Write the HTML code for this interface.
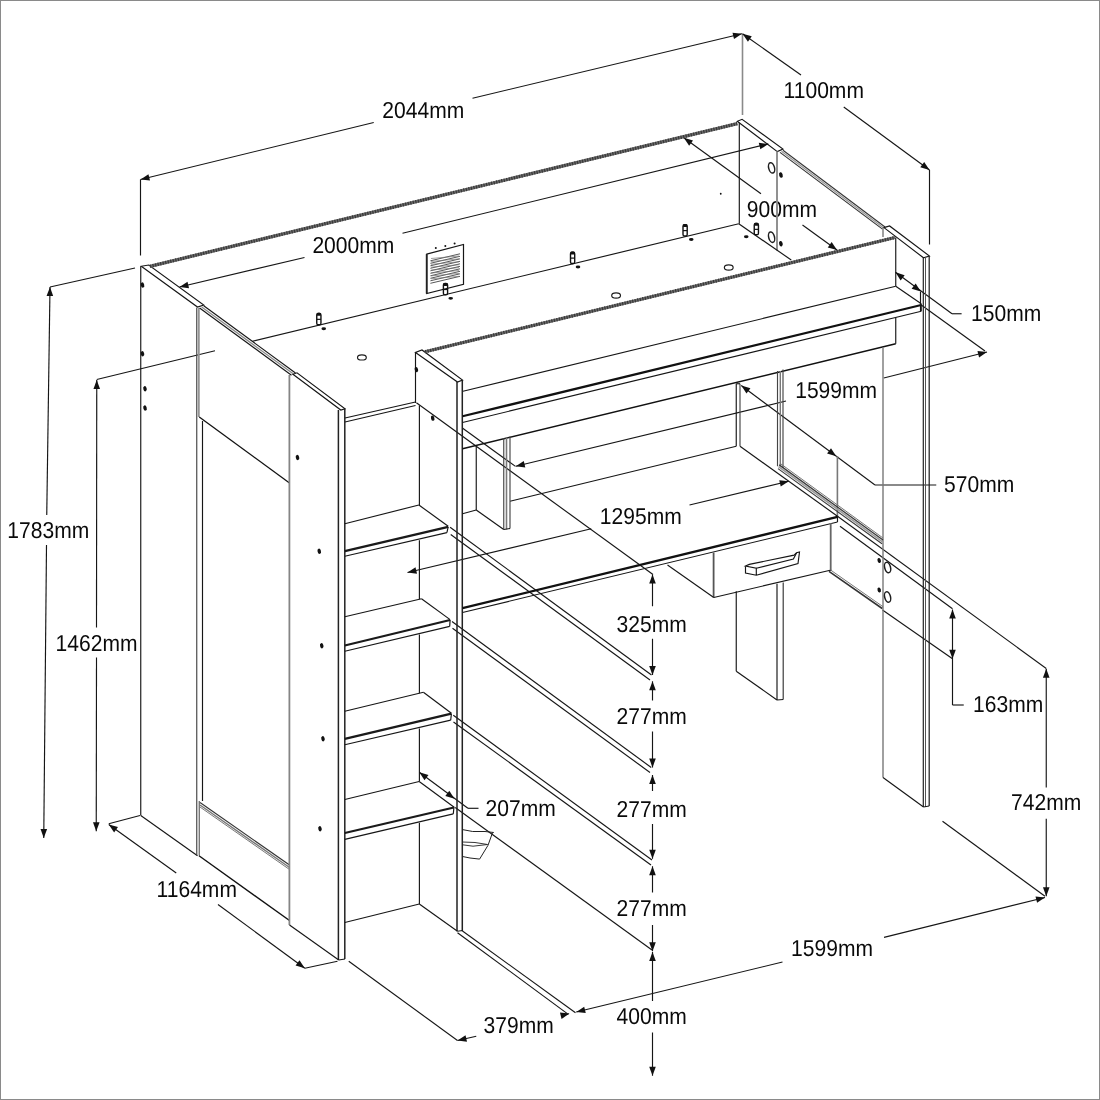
<!DOCTYPE html>
<html><head><meta charset="utf-8"><title>Dimensions</title>
<style>
html,body{margin:0;padding:0;background:#fff;}
body{width:1100px;height:1100px;overflow:hidden;position:relative;}
svg{position:absolute;left:0;top:0;display:block;will-change:transform;}
svg text{text-rendering:geometricPrecision;font-family:"Liberation Sans",Arial,Helvetica,sans-serif;font-size:23.0px;fill:#0a0a0a;}
.frame{position:absolute;left:0;top:0;width:1098px;height:1098px;border:1px solid #8a8a8a;}
</style></head><body>
<svg width="1100" height="1100" viewBox="0 0 1100 1100">
<line x1="140.5" y1="179.5" x2="373.75" y2="122.5" stroke="#161616" stroke-width="1.15"/>
<line x1="472.5" y1="98.25" x2="742" y2="33.75" stroke="#161616" stroke-width="1.15"/>
<polygon points="140.50,179.50 148.46,174.16 150.03,180.57" fill="#111"/>
<polygon points="742.00,33.75 734.02,39.05 732.48,32.64" fill="#111"/>
<line x1="140.5" y1="179.5" x2="140.5" y2="255.5" stroke="#161616" stroke-width="1.15"/>
<line x1="742.5" y1="33.75" x2="742.5" y2="115" stroke="#8a8a8a" stroke-width="1.6"/>
<text transform="translate(382.35,118.2) scale(0.915,1)">2044mm</text>
<line x1="742.5" y1="33.75" x2="801" y2="75" stroke="#161616" stroke-width="1.15"/>
<line x1="843.75" y1="107" x2="929.5" y2="170" stroke="#161616" stroke-width="1.15"/>
<polygon points="742.50,33.75 751.76,36.24 747.95,41.63" fill="#111"/>
<polygon points="929.50,170.00 920.29,167.33 924.20,162.01" fill="#111"/>
<line x1="929.5" y1="170" x2="929.5" y2="244.5" stroke="#161616" stroke-width="1.15"/>
<text transform="translate(783.6,98.2) scale(0.915,1)">1100mm</text>
<line x1="179.5" y1="287" x2="304.5" y2="257.5" stroke="#161616" stroke-width="1.15"/>
<line x1="402.5" y1="233.3" x2="768.3" y2="143.9" stroke="#161616" stroke-width="1.15"/>
<polygon points="179.50,287.00 187.50,281.72 189.02,288.14" fill="#111"/>
<polygon points="768.30,143.90 760.34,149.24 758.77,142.83" fill="#111"/>
<text transform="translate(312.40000000000003,253.2) scale(0.915,1)">2000mm</text>
<line x1="683.8" y1="137.8" x2="761" y2="193.75" stroke="#161616" stroke-width="1.15"/>
<line x1="802.5" y1="225" x2="837" y2="250" stroke="#161616" stroke-width="1.15"/>
<polygon points="683.80,137.80 693.02,140.41 689.15,145.75" fill="#111"/>
<polygon points="837.00,250.00 827.78,247.39 831.65,242.05" fill="#111"/>
<text transform="translate(746.8000000000001,217.2) scale(0.915,1)">900mm</text>
<line x1="895.5" y1="272.3" x2="952" y2="313.75" stroke="#161616" stroke-width="1.15"/>
<line x1="952" y1="313.75" x2="961.6" y2="313.75" stroke="#161616" stroke-width="1.15"/>
<polygon points="895.50,272.30 904.66,275.13 900.65,280.38" fill="#111"/>
<polygon points="920.80,291.60 911.64,288.77 915.65,283.52" fill="#111"/>
<text transform="translate(971.1,321.45) scale(0.915,1)">150mm</text>
<line x1="515.8" y1="466.3" x2="786" y2="401" stroke="#161616" stroke-width="1.15"/>
<line x1="883.75" y1="378" x2="987" y2="352" stroke="#161616" stroke-width="1.15"/>
<polygon points="515.80,466.30 523.77,460.98 525.32,467.39" fill="#111"/>
<polygon points="987.00,352.00 979.08,357.40 977.47,351.00" fill="#111"/>
<text transform="translate(795.2,397.5) scale(0.915,1)">1599mm</text>
<line x1="416.4" y1="402.7" x2="653" y2="574.5" stroke="#161616" stroke-width="1.15"/>
<line x1="462.7" y1="428.2" x2="515.5" y2="466.4" stroke="#161616" stroke-width="1.15"/>
<line x1="921.25" y1="305" x2="985" y2="351" stroke="#161616" stroke-width="1.15"/>
<line x1="741.25" y1="385.5" x2="875" y2="485" stroke="#161616" stroke-width="1.15"/>
<line x1="875" y1="485" x2="936.25" y2="485" stroke="#161616" stroke-width="1.15"/>
<polygon points="741.25,385.50 750.44,388.23 746.50,393.52" fill="#111"/>
<polygon points="836.25,456.25 827.06,453.52 831.00,448.23" fill="#111"/>
<text transform="translate(944.1,492.2) scale(0.915,1)">570mm</text>
<line x1="837.4" y1="456" x2="837.4" y2="517" stroke="#787878" stroke-width="1.6"/>
<line x1="407.5" y1="572.5" x2="591.25" y2="528.75" stroke="#161616" stroke-width="1.15"/>
<line x1="689.5" y1="505" x2="788.75" y2="481.25" stroke="#161616" stroke-width="1.15"/>
<polygon points="407.50,572.50 415.49,567.21 417.02,573.63" fill="#111"/>
<polygon points="788.75,481.25 780.77,486.55 779.23,480.14" fill="#111"/>
<text transform="translate(599.85,524.2) scale(0.915,1)">1295mm</text>
<line x1="50" y1="287" x2="46.75" y2="515" stroke="#161616" stroke-width="1.15"/>
<line x1="46.5" y1="545" x2="43.75" y2="838" stroke="#161616" stroke-width="1.15"/>
<polygon points="50.00,287.00 53.17,296.05 46.57,295.95" fill="#111"/>
<polygon points="43.75,838.00 40.53,828.97 47.13,829.03" fill="#111"/>
<line x1="135" y1="268" x2="50" y2="287" stroke="#161616" stroke-width="1.15"/>
<text transform="translate(7.35,538.2) scale(0.915,1)">1783mm</text>
<line x1="96.75" y1="380" x2="96.5" y2="627.5" stroke="#161616" stroke-width="1.15"/>
<line x1="96.5" y1="657.5" x2="96.25" y2="831.25" stroke="#161616" stroke-width="1.15"/>
<polygon points="96.75,380.00 100.04,389.00 93.44,389.00" fill="#111"/>
<polygon points="96.25,831.25 92.96,822.25 99.56,822.25" fill="#111"/>
<line x1="96.75" y1="379.5" x2="215" y2="350.75" stroke="#161616" stroke-width="1.15"/>
<text transform="translate(55.6,651.2) scale(0.915,1)">1462mm</text>
<line x1="108.75" y1="824.5" x2="176.25" y2="873" stroke="#161616" stroke-width="1.15"/>
<line x1="218" y1="904.5" x2="304.8" y2="968.2" stroke="#161616" stroke-width="1.15"/>
<polygon points="108.75,824.50 117.98,827.07 114.13,832.43" fill="#111"/>
<polygon points="304.80,968.20 295.59,965.54 299.50,960.21" fill="#111"/>
<line x1="108.75" y1="823.75" x2="140" y2="815.5" stroke="#161616" stroke-width="1.15"/>
<line x1="304.8" y1="968.2" x2="337.5" y2="961.25" stroke="#161616" stroke-width="1.15"/>
<text transform="translate(156.6,897.2) scale(0.915,1)">1164mm</text>
<line x1="348.75" y1="961.25" x2="457.5" y2="1040.5" stroke="#161616" stroke-width="1.15"/>
<line x1="457.5" y1="1040.5" x2="476.25" y2="1036.25" stroke="#161616" stroke-width="1.15"/>
<polygon points="457.50,1040.50 465.55,1035.29 467.01,1041.73" fill="#111"/>
<line x1="561.25" y1="1016.25" x2="568.75" y2="1013.75" stroke="#161616" stroke-width="1.15"/>
<polygon points="569.50,1013.60 561.52,1018.92 559.98,1012.50" fill="#111"/>
<text transform="translate(483.6,1032.7) scale(0.915,1)">379mm</text>
<line x1="462.5" y1="931" x2="575.5" y2="1012.7" stroke="#161616" stroke-width="1.15"/>
<line x1="457.5" y1="932.7" x2="567.3" y2="1013.6" stroke="#161616" stroke-width="1.15"/>
<line x1="576.25" y1="1012" x2="782.5" y2="962" stroke="#161616" stroke-width="1.15"/>
<line x1="884" y1="937.4" x2="1045" y2="897.5" stroke="#161616" stroke-width="1.15"/>
<polygon points="576.25,1012.00 584.22,1006.67 585.77,1013.09" fill="#111"/>
<polygon points="1045.00,897.50 1037.06,902.87 1035.47,896.46" fill="#111"/>
<text transform="translate(791.1,956.45) scale(0.915,1)">1599mm</text>
<line x1="1046.25" y1="668.75" x2="1046.25" y2="787.5" stroke="#161616" stroke-width="1.15"/>
<line x1="1046.25" y1="818.75" x2="1046.25" y2="896.25" stroke="#161616" stroke-width="1.15"/>
<polygon points="1046.25,668.75 1049.55,677.75 1042.95,677.75" fill="#111"/>
<polygon points="1046.25,896.25 1042.95,887.25 1049.55,887.25" fill="#111"/>
<text transform="translate(1011.1,810.2) scale(0.915,1)">742mm</text>
<line x1="837.5" y1="516.25" x2="1046.25" y2="668.5" stroke="#161616" stroke-width="1.15"/>
<line x1="942.5" y1="821.25" x2="1045" y2="896.25" stroke="#161616" stroke-width="1.15"/>
<line x1="952.5" y1="609.5" x2="952.5" y2="705" stroke="#161616" stroke-width="1.15"/>
<line x1="952.5" y1="705" x2="963.75" y2="705" stroke="#161616" stroke-width="1.15"/>
<polygon points="952.50,609.50 955.80,618.50 949.20,618.50" fill="#111"/>
<polygon points="952.50,658.75 949.20,649.75 955.80,649.75" fill="#111"/>
<text transform="translate(973.1,712.2) scale(0.915,1)">163mm</text>
<line x1="840" y1="526.25" x2="952.5" y2="608.75" stroke="#161616" stroke-width="1.15"/>
<line x1="882.5" y1="610" x2="952.5" y2="658.75" stroke="#161616" stroke-width="1.15"/>
<line x1="652.5" y1="574.5" x2="652.5" y2="606.25" stroke="#161616" stroke-width="1.15"/>
<line x1="652.5" y1="638.75" x2="652.5" y2="675" stroke="#161616" stroke-width="1.15"/>
<polygon points="652.50,574.50 655.80,583.50 649.20,583.50" fill="#111"/>
<polygon points="652.50,675.00 649.20,666.00 655.80,666.00" fill="#111"/>
<text transform="translate(616.6,632.4000000000001) scale(0.915,1)">325mm</text>
<line x1="652.5" y1="681.3" x2="652.5" y2="700.5" stroke="#161616" stroke-width="1.15"/>
<line x1="652.5" y1="731.5" x2="652.5" y2="767.5" stroke="#161616" stroke-width="1.15"/>
<polygon points="652.50,681.30 655.80,690.30 649.20,690.30" fill="#111"/>
<polygon points="652.50,767.50 649.20,758.50 655.80,758.50" fill="#111"/>
<text transform="translate(616.6,723.95) scale(0.915,1)">277mm</text>
<line x1="652.5" y1="775" x2="652.5" y2="791" stroke="#161616" stroke-width="1.15"/>
<line x1="652.5" y1="824" x2="652.5" y2="858.75" stroke="#161616" stroke-width="1.15"/>
<polygon points="652.50,775.00 655.80,784.00 649.20,784.00" fill="#111"/>
<polygon points="652.50,858.75 649.20,849.75 655.80,849.75" fill="#111"/>
<text transform="translate(616.6,817.2) scale(0.915,1)">277mm</text>
<line x1="652.5" y1="866.25" x2="652.5" y2="892.5" stroke="#161616" stroke-width="1.15"/>
<line x1="652.5" y1="925" x2="652.5" y2="951.25" stroke="#161616" stroke-width="1.15"/>
<polygon points="652.50,866.25 655.80,875.25 649.20,875.25" fill="#111"/>
<polygon points="652.50,951.25 649.20,942.25 655.80,942.25" fill="#111"/>
<text transform="translate(616.6,915.7) scale(0.915,1)">277mm</text>
<line x1="652.5" y1="952" x2="652.5" y2="1001" stroke="#161616" stroke-width="1.15"/>
<line x1="652.5" y1="1032.5" x2="652.5" y2="1075.75" stroke="#161616" stroke-width="1.15"/>
<polygon points="652.50,952.00 655.80,961.00 649.20,961.00" fill="#111"/>
<polygon points="652.50,1075.75 649.20,1066.75 655.80,1066.75" fill="#111"/>
<text transform="translate(616.6,1023.95) scale(0.915,1)">400mm</text>
<line x1="450.1" y1="527.2" x2="651.5" y2="675" stroke="#161616" stroke-width="1.15"/>
<line x1="450.7" y1="534.5" x2="650" y2="680" stroke="#161616" stroke-width="1.15"/>
<line x1="452" y1="621.5" x2="651.25" y2="767.5" stroke="#161616" stroke-width="1.15"/>
<line x1="452.5" y1="628.2" x2="650" y2="772.5" stroke="#161616" stroke-width="1.15"/>
<line x1="453.3" y1="715.2" x2="652" y2="860" stroke="#161616" stroke-width="1.15"/>
<line x1="453.5" y1="722" x2="651" y2="865" stroke="#161616" stroke-width="1.15"/>
<line x1="455.2" y1="807.5" x2="652" y2="950" stroke="#161616" stroke-width="1.15"/>
<line x1="419.3" y1="772.2" x2="467.9" y2="808.3" stroke="#161616" stroke-width="1.15"/>
<line x1="467.9" y1="808.3" x2="478.5" y2="808.3" stroke="#161616" stroke-width="1.15"/>
<polygon points="419.30,772.20 428.47,774.98 424.51,780.25" fill="#111"/>
<polygon points="454.50,798.70 445.33,795.92 449.29,790.65" fill="#111"/>
<text transform="translate(485.6,815.7) scale(0.915,1)">207mm</text>
<line x1="140.75" y1="266.25" x2="140.75" y2="815.5" stroke="#161616" stroke-width="1.15"/>
<path d="M141.25 266.25 L197.5 307 L203.75 305 L148.75 265 Z" stroke="#161616" stroke-width="1.15" fill="none"/>
<line x1="140.75" y1="815.5" x2="197.5" y2="855.75" stroke="#161616" stroke-width="1.15"/>
<line x1="196.75" y1="307.5" x2="196.75" y2="855.75" stroke="#444" stroke-width="1.15"/>
<line x1="198.8" y1="308" x2="198.8" y2="417" stroke="#959595" stroke-width="1.9"/>
<line x1="202.5" y1="421" x2="202.5" y2="801" stroke="#161616" stroke-width="1.15"/>
<line x1="199.3" y1="801" x2="199.3" y2="855.75" stroke="#787878" stroke-width="1.4"/>
<line x1="199.6" y1="308" x2="291.5" y2="375.2" stroke="#161616" stroke-width="1.15"/>
<line x1="203.7" y1="305.8" x2="295.5" y2="373" stroke="#161616" stroke-width="1.15"/>
<line x1="201.7" y1="306.9" x2="293.5" y2="374.1" stroke="#8a8a8a" stroke-width="1.3"/>
<line x1="199.25" y1="417" x2="289.5" y2="483" stroke="#111" stroke-width="1.3"/>
<line x1="200" y1="802.5" x2="289.5" y2="865" stroke="#333" stroke-width="1.15"/>
<line x1="200" y1="805" x2="289.5" y2="867.5" stroke="#787878" stroke-width="1.4"/>
<line x1="200" y1="807" x2="289.5" y2="869.5" stroke="#555" stroke-width="0.8"/>
<line x1="199" y1="855.75" x2="289.5" y2="920.5" stroke="#111" stroke-width="1.4"/>
<line x1="289.4" y1="375" x2="289.4" y2="925" stroke="#858585" stroke-width="1.8"/>
<path d="M292.9 374.3 L340.8 410 L345 408.7 L297 372.8 Z" stroke="#161616" stroke-width="1.15" fill="none"/>
<line x1="338.4" y1="410" x2="338.4" y2="960" stroke="#222" stroke-width="1.5"/>
<line x1="344.8" y1="408.7" x2="344.8" y2="959" stroke="#222" stroke-width="1.5"/>
<line x1="289.5" y1="925" x2="338.75" y2="960" stroke="#161616" stroke-width="1.15"/>
<line x1="338.75" y1="960" x2="345" y2="959" stroke="#161616" stroke-width="1.15"/>
<ellipse cx="142.5" cy="285" rx="1.7" ry="2.7" fill="#111" transform="rotate(-15 142.5 285)"/>
<ellipse cx="142.5" cy="353.75" rx="1.7" ry="2.7" fill="#111" transform="rotate(-15 142.5 353.75)"/>
<ellipse cx="145" cy="388.75" rx="1.7" ry="2.7" fill="#111" transform="rotate(-15 145 388.75)"/>
<ellipse cx="145" cy="408" rx="1.7" ry="2.7" fill="#111" transform="rotate(-15 145 408)"/>
<ellipse cx="297.5" cy="457.5" rx="1.7" ry="2.7" fill="#111" transform="rotate(-15 297.5 457.5)"/>
<ellipse cx="319.25" cy="551.25" rx="1.7" ry="2.7" fill="#111" transform="rotate(-15 319.25 551.25)"/>
<ellipse cx="321.75" cy="645.75" rx="1.7" ry="2.7" fill="#111" transform="rotate(-15 321.75 645.75)"/>
<ellipse cx="323" cy="738.75" rx="1.7" ry="2.7" fill="#111" transform="rotate(-15 323 738.75)"/>
<ellipse cx="320" cy="828.75" rx="1.7" ry="2.7" fill="#111" transform="rotate(-15 320 828.75)"/>
<line x1="345" y1="418" x2="415.5" y2="402" stroke="#161616" stroke-width="1.15"/>
<line x1="345" y1="422" x2="415.5" y2="405.5" stroke="#161616" stroke-width="1.15"/>
<line x1="415.5" y1="352.5" x2="415.5" y2="403" stroke="#161616" stroke-width="1.15"/>
<path d="M415.5 352.5 L457.5 382 L462.5 380 L422 350 Z" stroke="#161616" stroke-width="1.15" fill="none"/>
<line x1="457.0" y1="382" x2="457.0" y2="931.25" stroke="#222" stroke-width="1.5"/>
<line x1="462.3" y1="380" x2="462.3" y2="931.25" stroke="#222" stroke-width="1.5"/>
<line x1="457.5" y1="931.25" x2="462.5" y2="930.5" stroke="#161616" stroke-width="1.15"/>
<line x1="419.4" y1="405.5" x2="419.4" y2="505" stroke="#161616" stroke-width="1.15"/>
<line x1="419.4" y1="540.3" x2="419.4" y2="599.2" stroke="#161616" stroke-width="1.15"/>
<line x1="419.4" y1="634.6" x2="419.4" y2="693.2" stroke="#161616" stroke-width="1.15"/>
<line x1="419.4" y1="728.5" x2="419.4" y2="781.5" stroke="#161616" stroke-width="1.15"/>
<line x1="419.4" y1="822.8" x2="419.4" y2="904" stroke="#161616" stroke-width="1.15"/>
<line x1="344.8" y1="523.7" x2="418.9" y2="505" stroke="#161616" stroke-width="1.15"/>
<line x1="418.9" y1="505" x2="448.2" y2="526.3" stroke="#161616" stroke-width="1.15"/>
<line x1="344.8" y1="551.1" x2="448.2" y2="526.9" stroke="#1a1a1a" stroke-width="2.3"/>
<line x1="344.8" y1="556.2" x2="446.9" y2="532.6" stroke="#161616" stroke-width="1.15"/>
<line x1="448.2" y1="526.9" x2="446.9" y2="532.6" stroke="#161616" stroke-width="1.15"/>
<line x1="344.8" y1="616.8" x2="421.5" y2="598.7" stroke="#161616" stroke-width="1.15"/>
<line x1="421.5" y1="598.7" x2="450.1" y2="619.6" stroke="#161616" stroke-width="1.15"/>
<line x1="344.8" y1="645.5" x2="450.1" y2="620" stroke="#1a1a1a" stroke-width="2.3"/>
<line x1="344.8" y1="651.2" x2="449.7" y2="626.4" stroke="#161616" stroke-width="1.15"/>
<line x1="450.1" y1="620" x2="449.7" y2="626.4" stroke="#161616" stroke-width="1.15"/>
<line x1="344.8" y1="711.2" x2="423.4" y2="692.2" stroke="#161616" stroke-width="1.15"/>
<line x1="423.4" y1="692.2" x2="451.4" y2="713.3" stroke="#161616" stroke-width="1.15"/>
<line x1="344.8" y1="738.8" x2="451.4" y2="713.7" stroke="#1a1a1a" stroke-width="2.3"/>
<line x1="344.8" y1="744.7" x2="450.7" y2="720.1" stroke="#161616" stroke-width="1.15"/>
<line x1="451.4" y1="713.7" x2="450.7" y2="720.1" stroke="#161616" stroke-width="1.15"/>
<line x1="344.8" y1="799.5" x2="419.2" y2="781.5" stroke="#161616" stroke-width="1.15"/>
<line x1="419.2" y1="781.5" x2="454.5" y2="807.5" stroke="#161616" stroke-width="1.15"/>
<line x1="344.8" y1="833" x2="453.9" y2="807.5" stroke="#1a1a1a" stroke-width="2.3"/>
<line x1="344.8" y1="839.4" x2="453.3" y2="813.9" stroke="#161616" stroke-width="1.15"/>
<line x1="453.9" y1="807.5" x2="453.3" y2="813.9" stroke="#161616" stroke-width="1.15"/>
<line x1="344.8" y1="922.5" x2="419.3" y2="904" stroke="#161616" stroke-width="1.15"/>
<line x1="419.3" y1="904" x2="457.5" y2="931.25" stroke="#161616" stroke-width="1.15"/>
<line x1="150" y1="266.3" x2="737.3" y2="123.6" stroke="#6a6a6a" stroke-width="3.3"/>
<line x1="150" y1="266.3" x2="737.3" y2="123.6" stroke="#383838" stroke-width="3.3" stroke-dasharray="1.2 1.4"/>
<path d="M737.2 121.3 L777.3 151.6 L783 149.1 L742.1 119.3 Z" stroke="#161616" stroke-width="1.15" fill="none"/>
<line x1="739.3" y1="122.5" x2="739.3" y2="223.75" stroke="#161616" stroke-width="1.15"/>
<line x1="777" y1="151.6" x2="777" y2="250.6" stroke="#8c8c8c" stroke-width="1.9"/>
<line x1="783" y1="150.2" x2="885" y2="227" stroke="#333" stroke-width="1.1"/>
<line x1="781.5" y1="151.3" x2="883.7" y2="228.1" stroke="#999" stroke-width="1.3"/>
<line x1="780" y1="152.4" x2="882.5" y2="229.1" stroke="#333" stroke-width="1.1"/>
<line x1="252.5" y1="341.25" x2="738.75" y2="223.75" stroke="#161616" stroke-width="1.15"/>
<line x1="738.75" y1="223.75" x2="791.25" y2="260" stroke="#161616" stroke-width="1.15"/>
<line x1="425" y1="351.75" x2="895" y2="237.5" stroke="#6a6a6a" stroke-width="3.3"/>
<line x1="425" y1="351.75" x2="895" y2="237.5" stroke="#383838" stroke-width="3.3" stroke-dasharray="1.2 1.4"/>
<line x1="895.75" y1="237.5" x2="895.75" y2="286.25" stroke="#161616" stroke-width="1.15"/>
<line x1="895.75" y1="317.5" x2="895.75" y2="343.75" stroke="#161616" stroke-width="1.15"/>
<line x1="463" y1="391.25" x2="895.75" y2="286.25" stroke="#161616" stroke-width="1.15"/>
<line x1="462.5" y1="416.25" x2="921.25" y2="305" stroke="#111" stroke-width="2.3"/>
<line x1="462.5" y1="422.5" x2="921.25" y2="311.25" stroke="#161616" stroke-width="1.15"/>
<line x1="895.75" y1="286.25" x2="921.25" y2="303.75" stroke="#161616" stroke-width="1.15"/>
<line x1="920.5" y1="291.6" x2="920.5" y2="311" stroke="#161616" stroke-width="1.15"/>
<line x1="921.25" y1="303.75" x2="921.25" y2="311.25" stroke="#161616" stroke-width="1.15"/>
<line x1="462.5" y1="448.75" x2="895.75" y2="343.75" stroke="#111" stroke-width="1.5"/>
<path d="M884 227.6 L923.5 257.8 L929.4 256 L889.6 226 Z" stroke="#161616" stroke-width="1.15" fill="none"/>
<line x1="923.3" y1="257.8" x2="923.3" y2="807" stroke="#222" stroke-width="1.2"/>
<line x1="925.5" y1="257.3" x2="925.5" y2="807" stroke="#555" stroke-width="1.0"/>
<line x1="929.2" y1="256" x2="929.2" y2="806" stroke="#222" stroke-width="1.25"/>
<line x1="883" y1="227.5" x2="883" y2="237" stroke="#787878" stroke-width="1.4"/>
<line x1="883" y1="347.5" x2="883" y2="777.5" stroke="#787878" stroke-width="1.4"/>
<line x1="883" y1="777.5" x2="923.5" y2="807" stroke="#161616" stroke-width="1.15"/>
<line x1="923.5" y1="807" x2="929.2" y2="806" stroke="#161616" stroke-width="1.15"/>
<line x1="510" y1="501.25" x2="736.25" y2="446.25" stroke="#161616" stroke-width="1.15"/>
<line x1="740" y1="446.25" x2="837.5" y2="516.25" stroke="#161616" stroke-width="1.15"/>
<line x1="462.5" y1="608.2" x2="837.5" y2="516.9" stroke="#111" stroke-width="2.3"/>
<line x1="462.5" y1="612.5" x2="837.5" y2="522" stroke="#161616" stroke-width="1.15"/>
<line x1="837.5" y1="516.25" x2="837.5" y2="522" stroke="#161616" stroke-width="1.15"/>
<line x1="736.25" y1="383.75" x2="736.25" y2="446.25" stroke="#161616" stroke-width="1.15"/>
<line x1="740" y1="383.75" x2="740" y2="446.25" stroke="#444" stroke-width="1.15"/>
<line x1="736.25" y1="383.75" x2="740" y2="383.75" stroke="#161616" stroke-width="1.15"/>
<line x1="777.5" y1="371" x2="777.5" y2="466.25" stroke="#444" stroke-width="1.15"/>
<line x1="780.3" y1="371" x2="780.3" y2="466.25" stroke="#787878" stroke-width="1.4"/>
<line x1="783" y1="369.5" x2="783" y2="468" stroke="#444" stroke-width="1.15"/>
<line x1="778" y1="468.6" x2="882" y2="543.8" stroke="#3a3a3a" stroke-width="1.1"/>
<line x1="778.5" y1="466.6" x2="882.5" y2="541.8" stroke="#9a9a9a" stroke-width="1.6"/>
<line x1="779.2" y1="464.9" x2="883" y2="540" stroke="#3a3a3a" stroke-width="1.3"/>
<line x1="780" y1="463.3" x2="883" y2="538" stroke="#777" stroke-width="1.0"/>
<line x1="829" y1="571.4" x2="882.2" y2="608.5" stroke="#333" stroke-width="1.6"/>
<line x1="830" y1="569.6" x2="883" y2="606.7" stroke="#777" stroke-width="1.0"/>
<line x1="713.6" y1="552.5" x2="713.6" y2="597.5" stroke="#555" stroke-width="1.8"/>
<line x1="713.75" y1="597.5" x2="831.25" y2="570" stroke="#161616" stroke-width="1.15"/>
<line x1="830.7" y1="523" x2="830.7" y2="570" stroke="#666" stroke-width="1.8"/>
<line x1="667.5" y1="565" x2="713.75" y2="597.5" stroke="#161616" stroke-width="1.15"/>
<path d="M745.5 566 L745.5 573 L756.3 575.2 L798 563.6 L799.5 552 L796.5 552.8 L794.1 555.1 L749.3 564.4 L745.5 566 L756.3 568.3 L756.3 575.2" stroke="#161616" stroke-width="1.15" fill="none"/>
<path d="M756.3 568.3 L793.4 559 L796.5 553" stroke="#161616" stroke-width="1.15" fill="none"/>
<line x1="736.25" y1="591.25" x2="736.25" y2="671.25" stroke="#161616" stroke-width="1.15"/>
<line x1="736.25" y1="671.25" x2="777" y2="700" stroke="#161616" stroke-width="1.15"/>
<line x1="777" y1="583.75" x2="777" y2="700" stroke="#161616" stroke-width="1.15"/>
<line x1="783.2" y1="582.5" x2="783.2" y2="699.5" stroke="#333" stroke-width="1.15"/>
<line x1="777" y1="700" x2="783.2" y2="699.5" stroke="#161616" stroke-width="1.15"/>
<line x1="476.25" y1="446.25" x2="476.25" y2="510" stroke="#161616" stroke-width="1.15"/>
<line x1="462.5" y1="513.75" x2="476.25" y2="510" stroke="#161616" stroke-width="1.15"/>
<line x1="476.25" y1="510" x2="503.75" y2="529.5" stroke="#161616" stroke-width="1.15"/>
<line x1="503.75" y1="438" x2="503.75" y2="529.5" stroke="#444" stroke-width="1.15"/>
<line x1="506.5" y1="437.5" x2="506.5" y2="529.5" stroke="#787878" stroke-width="1.6"/>
<line x1="510" y1="436.5" x2="510" y2="528.5" stroke="#444" stroke-width="1.15"/>
<line x1="503.75" y1="529.5" x2="510" y2="528.5" stroke="#161616" stroke-width="1.15"/>
<ellipse cx="887.6" cy="567.5" rx="2.9" ry="5.3" fill="none" stroke="#1e1e1e" stroke-width="1.5" transform="rotate(-15 887.6 567.5)"/>
<ellipse cx="887.6" cy="597" rx="2.9" ry="5.3" fill="none" stroke="#1e1e1e" stroke-width="1.5" transform="rotate(-15 887.6 597)"/>
<ellipse cx="879.2" cy="560.5" rx="1.7" ry="2.6" fill="#111" transform="rotate(-15 879.2 560.5)"/>
<ellipse cx="879.2" cy="590" rx="1.7" ry="2.6" fill="#111" transform="rotate(-15 879.2 590)"/>
<path d="M426.7 254.1 L463.5 244.5 L463.5 284.3 L426.7 293.6 Z" stroke="#161616" stroke-width="1.2" fill="none"/>
<line x1="426.7" y1="254.1" x2="426.7" y2="293.6" stroke="#222" stroke-width="1.8"/>
<line x1="430.4" y1="260.8" x2="460" y2="253.8" stroke="#444" stroke-width="0.9"/>
<line x1="430.4" y1="263.3" x2="460" y2="256.3" stroke="#444" stroke-width="0.9"/>
<line x1="430.4" y1="265.8" x2="460" y2="258.8" stroke="#444" stroke-width="0.9"/>
<line x1="430.4" y1="268.3" x2="460" y2="261.3" stroke="#444" stroke-width="0.9"/>
<line x1="430.4" y1="270.8" x2="460" y2="263.8" stroke="#444" stroke-width="0.9"/>
<line x1="430.4" y1="273.3" x2="460" y2="266.3" stroke="#444" stroke-width="0.9"/>
<line x1="430.4" y1="275.8" x2="460" y2="268.8" stroke="#444" stroke-width="0.9"/>
<line x1="430.4" y1="278.3" x2="460" y2="271.3" stroke="#444" stroke-width="0.9"/>
<line x1="430.4" y1="280.8" x2="460" y2="273.8" stroke="#444" stroke-width="0.9"/>
<line x1="430.4" y1="283.3" x2="460" y2="276.3" stroke="#444" stroke-width="0.9"/>
<line x1="431" y1="258.5" x2="459" y2="256.0" stroke="#777" stroke-width="0.7"/>
<line x1="431" y1="261.4" x2="459" y2="258.9" stroke="#777" stroke-width="0.7"/>
<line x1="431" y1="264.3" x2="459" y2="261.8" stroke="#777" stroke-width="0.7"/>
<line x1="431" y1="267.2" x2="459" y2="264.7" stroke="#777" stroke-width="0.7"/>
<line x1="431" y1="270.1" x2="459" y2="267.6" stroke="#777" stroke-width="0.7"/>
<line x1="431" y1="273.0" x2="459" y2="270.5" stroke="#777" stroke-width="0.7"/>
<line x1="431" y1="275.9" x2="459" y2="273.4" stroke="#777" stroke-width="0.7"/>
<line x1="431" y1="278.8" x2="459" y2="276.3" stroke="#777" stroke-width="0.7"/>
<ellipse cx="435.8" cy="248" rx="1.0" ry="1.0" fill="#111" transform="rotate(0 435.8 248)"/>
<ellipse cx="445.3" cy="246.1" rx="1.0" ry="1.0" fill="#111" transform="rotate(0 445.3 246.1)"/>
<ellipse cx="454.6" cy="243.6" rx="1.0" ry="1.0" fill="#111" transform="rotate(0 454.6 243.6)"/>
<rect x="316.75" y="313.35" width="4.2" height="11.4" rx="1.6" fill="none" stroke="#111" stroke-width="1.4"/>
<rect x="316.75" y="312.85" width="4.2" height="3.0" rx="1.2" fill="#111"/>
<line x1="316.75" y1="319.35" x2="320.95" y2="319.35" stroke="#111" stroke-width="1.2"/>
<rect x="443.4" y="283.5" width="4.2" height="11.4" rx="1.6" fill="none" stroke="#111" stroke-width="1.4"/>
<rect x="443.4" y="283.0" width="4.2" height="3.0" rx="1.2" fill="#111"/>
<line x1="443.4" y1="289.5" x2="447.59999999999997" y2="289.5" stroke="#111" stroke-width="1.2"/>
<rect x="570.5" y="252.1" width="4.2" height="11.4" rx="1.6" fill="none" stroke="#111" stroke-width="1.4"/>
<rect x="570.5" y="251.6" width="4.2" height="3.0" rx="1.2" fill="#111"/>
<line x1="570.5" y1="258.1" x2="574.7" y2="258.1" stroke="#111" stroke-width="1.2"/>
<rect x="683.0" y="224.6" width="4.2" height="11.4" rx="1.6" fill="none" stroke="#111" stroke-width="1.4"/>
<rect x="683.0" y="224.1" width="4.2" height="3.0" rx="1.2" fill="#111"/>
<line x1="683" y1="230.6" x2="687.2" y2="230.6" stroke="#111" stroke-width="1.2"/>
<rect x="754.25" y="223.35" width="4.2" height="11.4" rx="1.6" fill="none" stroke="#111" stroke-width="1.4"/>
<rect x="754.25" y="222.85" width="4.2" height="3.0" rx="1.2" fill="#111"/>
<line x1="754.25" y1="229.35" x2="758.45" y2="229.35" stroke="#111" stroke-width="1.2"/>
<ellipse cx="323.75" cy="328.75" rx="2.3" ry="1.4" fill="#111" transform="rotate(0 323.75 328.75)"/>
<ellipse cx="450.7" cy="298.3" rx="2.3" ry="1.4" fill="#111" transform="rotate(0 450.7 298.3)"/>
<ellipse cx="578" cy="267" rx="2.3" ry="1.4" fill="#111" transform="rotate(0 578 267)"/>
<ellipse cx="691.25" cy="239.5" rx="2.3" ry="1.4" fill="#111" transform="rotate(0 691.25 239.5)"/>
<ellipse cx="746.25" cy="236.75" rx="2.3" ry="1.4" fill="#111" transform="rotate(0 746.25 236.75)"/>
<ellipse cx="361.9" cy="357.4" rx="4.4" ry="2.6" fill="none" stroke="#1e1e1e" stroke-width="1.15" transform="rotate(0 361.9 357.4)"/>
<ellipse cx="616.1" cy="295.5" rx="4.4" ry="2.6" fill="none" stroke="#1e1e1e" stroke-width="1.15" transform="rotate(0 616.1 295.5)"/>
<ellipse cx="728.75" cy="267.5" rx="4.4" ry="2.6" fill="none" stroke="#1e1e1e" stroke-width="1.15" transform="rotate(0 728.75 267.5)"/>
<ellipse cx="771.6" cy="167.9" rx="2.9" ry="5.3" fill="none" stroke="#1e1e1e" stroke-width="1.5" transform="rotate(-15 771.6 167.9)"/>
<ellipse cx="771.6" cy="237.2" rx="2.9" ry="5.3" fill="none" stroke="#1e1e1e" stroke-width="1.5" transform="rotate(-15 771.6 237.2)"/>
<ellipse cx="780.9" cy="175" rx="1.8" ry="2.8" fill="#111" transform="rotate(-15 780.9 175)"/>
<ellipse cx="780.9" cy="243.7" rx="1.8" ry="2.8" fill="#111" transform="rotate(-15 780.9 243.7)"/>
<ellipse cx="720.75" cy="193.75" rx="0.9" ry="0.9" fill="#111" transform="rotate(0 720.75 193.75)"/>
<ellipse cx="416.4" cy="369.6" rx="1.7" ry="2.7" fill="#111" transform="rotate(-15 416.4 369.6)"/>
<ellipse cx="432.7" cy="418.2" rx="1.7" ry="2.7" fill="#111" transform="rotate(-15 432.7 418.2)"/>
<path d="M462.5 829.6 L472.7 831.5 L485 831.5 L493.8 832.5" stroke="#222" stroke-width="1.0" fill="none"/>
<path d="M492.6 832.5 L488 845.3 L479.6 859.1" stroke="#222" stroke-width="1.0" fill="none"/>
<path d="M462.5 842 L475 842.5 L487.6 844.5" stroke="#222" stroke-width="0.9" fill="none"/>
<path d="M462.5 844.8 L473 846.2 L487.6 844.5" stroke="#222" stroke-width="0.9" fill="none"/>
<path d="M462.5 856.5 L470 858 L479.6 859.1" stroke="#222" stroke-width="1.0" fill="none"/>
</svg>
<div class="frame"></div>
</body></html>
